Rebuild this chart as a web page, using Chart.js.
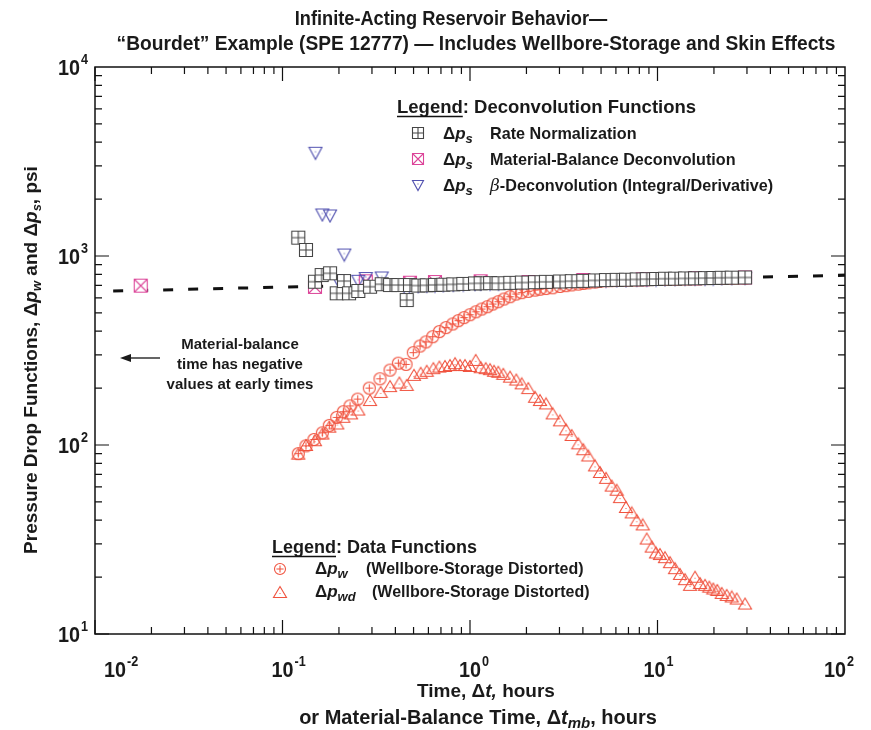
<!DOCTYPE html>
<html>
<head>
<meta charset="utf-8">
<script src="https://cdn.jsdelivr.net/npm/chart.js@4.4.0/dist/chart.umd.min.js"></script>
<style>
  html, body { margin: 0; padding: 0; background: #fff; }
</style>
</head>
<body>
<canvas id="chart" width="871" height="730"></canvas>
<script>
// values (time in hours, pressure drop in psi)
const rateTime = [0.1214, 0.1334, 0.149, 0.1618, 0.1792, 0.1946, 0.2128, 0.2263, 0.2537, 0.2929,
  0.3381, 0.3744, 0.4147, 0.4597, 0.4786, 0.53, 0.5875, 0.6506, 0.7205, 0.8146, 0.921, 1.0633,
  1.14, 1.28, 1.42, 1.64, 1.89, 2.22, 2.54, 3.02, 3.49, 4.02, 4.64, 5.31, 6.06, 6.79, 7.75, 8.76,
  9.82, 10.96, 12.4, 14.02, 15.85, 17.92, 19.84, 22.0, 24.87, 29.29];
const rateDp = [1250, 1076, 731, 793, 810, 635, 737, 635, 653, 688,
  709, 702, 702, 585, 702, 698, 700, 703, 705, 708, 712, 716,
  717, 719, 718, 721, 724, 727, 730, 733, 736, 739, 743, 746, 748, 749, 752, 754,
  756, 758, 759, 761, 762, 764, 765, 767, 768, 770];

const mbTime = [0.01753, 0.149, 0.278, 0.4786, 0.6506, 1.14, 2.05, 4.02, 8.34, 15.85, 29.29];
const mbDp = [697, 686, 735, 722, 728, 735, 728, 747, 753, 762, 770];

const betaTime = [0.1499, 0.1631, 0.1792, 0.198, 0.2136, 0.2537, 0.278, 0.3381, 0.4597, 0.53,
  0.5875, 0.6506, 0.7205, 0.8146, 0.921, 1.0633, 1.14, 1.28, 1.42, 1.64, 1.89, 2.22, 2.54, 3.02,
  3.49, 4.02, 4.64, 5.31, 6.06, 6.79, 7.75, 8.76, 9.82, 10.96, 12.4, 14.02, 15.85, 17.92, 19.84,
  22.0, 24.87, 29.29];
const betaDp = [3494, 1648, 1628, 740, 1012, 735, 760, 765, 650, 688,
  690, 693, 695, 698, 702, 706, 707, 709, 708, 711, 714, 717, 720, 723,
  726, 729, 733, 736, 738, 739, 742, 744, 746, 748, 749, 751, 752, 754, 755,
  757, 758, 760];

const pwTime = [0.1214, 0.1334, 0.1472, 0.1631, 0.1776, 0.1946, 0.2111, 0.2291, 0.2518, 0.2903,
  0.3311, 0.3744, 0.4147, 0.4558, 0.4984, 0.5412, 0.5825, 0.6325, 0.6861, 0.7447,
  0.8087, 0.8664, 0.929, 1.0, 1.076, 1.1546, 1.2372, 1.3218, 1.4156, 1.518,
  1.6351, 1.759, 1.887, 2.046, 2.222, 2.362, 2.543, 2.761, 3.02, 3.251,
  3.486, 3.781, 4.02, 4.274, 4.642, 4.935, 5.313, 5.698, 6.058, 6.31,
  6.792, 7.285, 7.746, 8.339, 8.76, 9.313, 9.817, 10.31, 10.96, 11.66,
  12.4, 13.18, 14.02, 14.91, 15.85, 16.86, 17.92, 18.89, 19.84, 20.84,
  22.0, 23.39, 24.87, 26.45, 29.29];
const pwDp = [90, 99, 107, 116, 127, 140, 150, 161, 175, 200,
  224, 249, 271, 267, 308, 334, 351, 374, 398, 418,
  437, 455, 472, 489, 507, 524, 539, 557, 573, 592,
  609, 629, 640, 650, 660, 667, 673, 679, 690, 697,
  703, 710, 716, 721, 728, 734, 740, 741, 744, 745,
  745, 747, 748, 749, 750, 751, 752, 753, 754, 754,
  755, 756, 757, 758, 758, 759, 760, 761, 761, 762,
  763, 763, 764, 765, 766];

const pwdTime = [0.1214, 0.1334, 0.149, 0.1631, 0.1776, 0.196, 0.2111, 0.232, 0.2537, 0.2929,
  0.3339, 0.3744, 0.4198, 0.4597, 0.5027, 0.5459, 0.5875, 0.6373, 0.6861, 0.7356,
  0.7822, 0.8318, 0.8845, 0.9404, 1.0, 1.0724, 1.1404, 1.2126, 1.2785, 1.3428,
  1.4156, 1.5049, 1.6351, 1.7659, 1.887, 2.046, 2.222, 2.362, 2.543, 2.761,
  3.02, 3.251, 3.486, 3.781, 4.02, 4.274, 4.642, 4.935, 5.313, 5.698,
  6.058, 6.31, 6.792, 7.285, 7.746, 8.339, 8.76, 9.313, 9.817, 10.31,
  10.96, 11.66, 12.4, 13.18, 14.02, 14.91, 15.85, 16.86, 17.92, 18.89,
  19.84, 20.84, 22.0, 23.39, 24.87, 26.45, 29.29];
const pwdDp = [90, 100, 106, 115, 125, 130, 141, 147, 154, 173,
  191, 205, 214, 208, 235, 241, 247, 255, 260, 262,
  265, 271, 265, 265, 262, 282, 258, 255, 252, 247,
  244, 238, 230, 222, 212, 200, 180, 173, 166, 147,
  135, 121, 113, 102, 95, 88, 78, 72, 67, 61,
  58, 53, 47, 44, 40, 38, 32, 29, 27, 26.5,
  25.5, 24, 22.3, 20.8, 19.5, 18.2, 20.1, 18.6, 18.2, 17.8,
  17.4, 17.1, 16.5, 16.1, 15.8, 15.4, 14.5];

// semilog straight line (infinite-acting radial flow)
const trendTime = [0.0125, 0.1, 1, 10, 100];
const trendDp = [652, 685, 719, 755, 790];

const xTicks = [0.01, 0.1, 1, 10, 100];
const xTickExp = ["-2", "-1", "0", "1", "2"];
const yTicks = [10, 100, 1000, 10000];
const yTickExp = ["1", "2", "3", "4"];

const RED = "#f0533f";
const GRAY = "#454545";
const BLUE = "#5252b0";
const PINK = "#dc4599";

const SANS = '"Liberation Sans", Arial, sans-serif';
const AB = (s) => `bold ${s}px ${SANS}`;
const AI = (s) => `italic bold ${s}px ${SANS}`;

function pts(xs, ys) {
    return xs.map((x, i) => ({ x: x, y: ys[i] }));
}

// small canvases used as point styles
function marker(kind, w, h, color) {
    const c = document.createElement("canvas");
    c.width = w + 2;
    c.height = h + 2;
    const g = c.getContext("2d");
    const x0 = 1, y0 = 1, cx = c.width / 2, cy = c.height / 2;
    g.strokeStyle = color;
    g.fillStyle = color;
    g.lineWidth = 1.1;
    g.beginPath();
    if (kind === "boxplus" || kind === "boxcross") {
        g.fillStyle = "#fff";
        g.fillRect(x0, y0, w, h);
        g.rect(x0 + 0.5, y0 + 0.5, w - 1, h - 1);
        if (kind === "boxplus") {
            g.moveTo(cx, y0); g.lineTo(cx, y0 + h);
            g.moveTo(x0, cy); g.lineTo(x0 + w, cy);
        } else {
            g.moveTo(x0 + 1, y0 + 1); g.lineTo(x0 + w - 1, y0 + h - 1);
            g.moveTo(x0 + w - 1, y0 + 1); g.lineTo(x0 + 1, y0 + h - 1);
        }
        g.stroke();
    } else if (kind === "circleplus") {
        g.arc(cx, cy, w / 2 - 0.5, 0, Math.PI * 2);
        const a = w * 0.3;
        g.moveTo(cx - a, cy); g.lineTo(cx + a, cy);
        g.moveTo(cx, cy - a); g.lineTo(cx, cy + a);
        g.stroke();
    } else if (kind === "triup") {
        g.moveTo(cx, y0 + 0.5);
        g.lineTo(x0 + w - 0.5, y0 + h - 0.5);
        g.lineTo(x0 + 0.5, y0 + h - 0.5);
        g.closePath();
        g.stroke();
        g.fillRect(cx - 0.5, cy + 1, 1, 1);
    } else if (kind === "tridown") {
        g.moveTo(x0 + 0.5, y0 + 0.5);
        g.lineTo(x0 + w - 0.5, y0 + 0.5);
        g.lineTo(cx, y0 + h - 0.5);
        g.closePath();
        g.stroke();
        g.fillRect(cx - 0.5, cy - 2, 1, 1);
    }
    return c;
}

const mRate = marker("boxplus", 14, 14, GRAY);
const mMb = marker("boxcross", 14, 14, PINK);
const mBeta = marker("tridown", 14, 13, BLUE);
const mPw = marker("circleplus", 13, 13, RED);
const mPwd = marker("triup", 14, 12, RED);

const lRate = marker("boxplus", 12, 12, GRAY);
const lMb = marker("boxcross", 12, 12, PINK);
const lBeta = marker("tridown", 12, 11, BLUE);
const lPw = marker("circleplus", 12, 12, RED);
const lPwd = marker("triup", 14, 12, RED);

// draws a row of differently styled text pieces, optionally squeezed horizontally
function drawRuns(ctx, x, y, parts, align, sx) {
    sx = sx || 1;
    let w = 0;
    parts.forEach((p) => { ctx.font = p[1]; w += ctx.measureText(p[0]).width; });
    const start = align === "center" ? x - (w * sx) / 2 : align === "right" ? x - w * sx : x;
    ctx.save();
    ctx.translate(start, y);
    ctx.scale(sx, 1);
    let cx = 0;
    parts.forEach((p) => {
        ctx.font = p[1];
        ctx.fillText(p[0], cx, p[2] || 0);
        cx += ctx.measureText(p[0]).width;
    });
    ctx.restore();
    return w * sx;
}

function drawImg(ctx, img, x, y) {
    ctx.drawImage(img, Math.round(x - img.width / 2), Math.round(y - img.height / 2));
}

const decorations = {
    id: "decorations",
    afterDraw: (chart) => {
        const ctx = chart.ctx;
        const a = chart.chartArea;
        const xs = chart.scales.x;
        const ys = chart.scales.y;

        ctx.save();
        ctx.strokeStyle = "#111";
        ctx.fillStyle = "#1a1a1a";
        ctx.textAlign = "left";
        ctx.textBaseline = "alphabetic";

        // frame
        ctx.lineWidth = 1.5;
        ctx.strokeRect(a.left, a.top, a.right - a.left, a.bottom - a.top);

        // inward ticks on all four sides
        ctx.lineWidth = 1.2;
        ctx.beginPath();
        for (let k = -2; k < 2; k++) {
            for (let m = 1; m <= 9; m++) {
                const px = xs.getPixelForValue(m * Math.pow(10, k));
                const len = m === 1 ? 14 : 7;
                ctx.moveTo(px, a.bottom); ctx.lineTo(px, a.bottom - len);
                ctx.moveTo(px, a.top); ctx.lineTo(px, a.top + len);
            }
        }
        for (let k = 1; k < 4; k++) {
            for (let m = 1; m <= 9; m++) {
                const py = ys.getPixelForValue(m * Math.pow(10, k));
                const len = m === 1 ? 14 : 7;
                ctx.moveTo(a.left, py); ctx.lineTo(a.left + len, py);
                ctx.moveTo(a.right, py); ctx.lineTo(a.right - len, py);
            }
        }
        ctx.stroke();

        // tick labels, the outer ones nudged inwards as in the original
        const nudge = [20, 0, 0, -3, -10];
        xTicks.forEach((v, i) => {
            const px = xs.getPixelForValue(v) + nudge[i];
            const w = drawRuns(ctx, px, a.bottom + 43, [["10", AB(22)]], "center", 0.9);
            drawRuns(ctx, px + w / 2 + 1, a.bottom + 32, [[xTickExp[i], AB(14)]], "left", 0.9);
        });
        yTicks.forEach((v, i) => {
            const py = ys.getPixelForValue(v);
            drawRuns(ctx, a.left - 15, py + 8, [["10", AB(22)]], "right", 0.9);
            drawRuns(ctx, a.left - 14, py - 3, [[yTickExp[i], AB(14)]], "left", 0.9);
        });

        // title
        drawRuns(ctx, 451, 25, [["Infinite-Acting Reservoir Behavior\u2014", AB(20)]], "center", 0.91);
        drawRuns(ctx, 476, 50, [["\u201cBourdet\u201d Example (SPE 12777) \u2014 Includes Wellbore-Storage and Skin Effects", AB(20)]], "center", 0.96);

        // x axis title
        drawRuns(ctx, 486, 697, [["Time, \u0394", AB(19)], ["t,", AI(19)], [" hours", AB(19)]], "center");
        drawRuns(ctx, 478, 724, [["or Material-Balance Time, \u0394", AB(20)], ["t", AI(20)], ["mb", AI(15), 4], [", hours", AB(20)]], "center");

        // y axis title
        ctx.save();
        ctx.translate(37, 360);
        ctx.rotate(-Math.PI / 2);
        drawRuns(ctx, 0, 0, [
            ["Pressure Drop Functions, \u0394", AB(19)], ["p", AI(19)], ["w", AI(13), 4],
            [" and \u0394", AB(19)], ["p", AI(19)], ["s", AI(13), 4], [", psi", AB(19)],
        ], "center");
        ctx.restore();

        // legend: deconvolution functions
        let w = drawRuns(ctx, 397, 113, [["Legend", AB(18.5)]], "left");
        drawRuns(ctx, 397 + w, 113, [[": Deconvolution Functions", AB(18.5)]], "left");
        ctx.lineWidth = 1.4;
        ctx.beginPath();
        ctx.moveTo(397, 116.5); ctx.lineTo(397 + w, 116.5);
        ctx.stroke();
        const rows1 = [
            [lRate, 134, [["Rate Normalization", AB(16.2)]]],
            [lMb, 160, [["Material-Balance Deconvolution", AB(16.2)]]],
            [lBeta, 186, [["\u03b2", 'italic 17px "DejaVu Serif", serif'], ["-Deconvolution (Integral/Derivative)", AB(16.2)]]],
        ];
        rows1.forEach((r) => {
            drawImg(ctx, r[0], 418, r[1] - 1);
            drawRuns(ctx, 443, r[1] + 5, [["\u0394", AB(17)], ["p", AI(17)], ["s", AI(13), 4]], "left");
            drawRuns(ctx, 490, r[1] + 5, r[2], "left");
        });

        // legend: data functions
        w = drawRuns(ctx, 272, 553, [["Legend", AB(18)]], "left");
        drawRuns(ctx, 272 + w, 553, [[": Data Functions", AB(18)]], "left");
        ctx.beginPath();
        ctx.moveTo(272, 556.5); ctx.lineTo(272 + w, 556.5);
        ctx.stroke();
        drawImg(ctx, lPw, 280, 569);
        drawRuns(ctx, 315, 574, [["\u0394", AB(17)], ["p", AI(17)], ["w", AI(13), 4]], "left");
        drawRuns(ctx, 366, 574, [["(Wellbore-Storage Distorted)", AB(16)]], "left");
        drawImg(ctx, lPwd, 280, 592);
        drawRuns(ctx, 315, 597, [["\u0394", AB(17)], ["p", AI(17)], ["wd", AI(13), 4]], "left");
        drawRuns(ctx, 372, 597, [["(Wellbore-Storage Distorted)", AB(16)]], "left");

        // annotation with arrow
        drawRuns(ctx, 240, 349, [["Material-balance", AB(15)]], "center");
        drawRuns(ctx, 240, 369, [["time has negative", AB(15)]], "center");
        drawRuns(ctx, 240, 389, [["values at early times", AB(15)]], "center");
        ctx.lineWidth = 1.3;
        ctx.beginPath();
        ctx.moveTo(160, 358); ctx.lineTo(128, 358);
        ctx.stroke();
        ctx.beginPath();
        ctx.moveTo(120, 358); ctx.lineTo(131, 354); ctx.lineTo(131, 362);
        ctx.closePath();
        ctx.fill();

        ctx.restore();
    },
};

const chart = new Chart(document.getElementById("chart").getContext("2d"), {
    type: "scatter",
    data: {
        datasets: [
            { label: "Rate Normalization", data: pts(rateTime, rateDp), pointStyle: mRate, pointRadius: 7, order: 0 },
            { label: "dp_w", data: pts(pwTime, pwDp), pointStyle: mPw, pointRadius: 6, order: 1 },
            { label: "beta-Deconvolution", data: pts(betaTime, betaDp), pointStyle: mBeta, pointRadius: 6, order: 2 },
            { label: "Material-Balance Deconvolution", data: pts(mbTime, mbDp), pointStyle: mMb, pointRadius: 7, order: 3 },
            { label: "dp_wd", data: pts(pwdTime, pwdDp), pointStyle: mPwd, pointRadius: 6, order: 4 },
            {
                label: "trend",
                data: pts(trendTime, trendDp),
                showLine: true,
                borderColor: "#111",
                borderWidth: 3,
                borderDash: [10, 15],
                pointRadius: 0,
                order: 5,
            },
        ],
    },
    options: {
        responsive: false,
        animation: false,
        devicePixelRatio: 1,
        layout: { padding: { left: 95, right: 26, top: 67, bottom: 96 } },
        scales: {
            x: { type: "logarithmic", min: 0.01, max: 100, display: false },
            y: { type: "logarithmic", min: 10, max: 10000, display: false },
        },
        plugins: {
            legend: { display: false },
            tooltip: { enabled: false },
        },
    },
    plugins: [decorations],
});
</script>
</body>
</html>
